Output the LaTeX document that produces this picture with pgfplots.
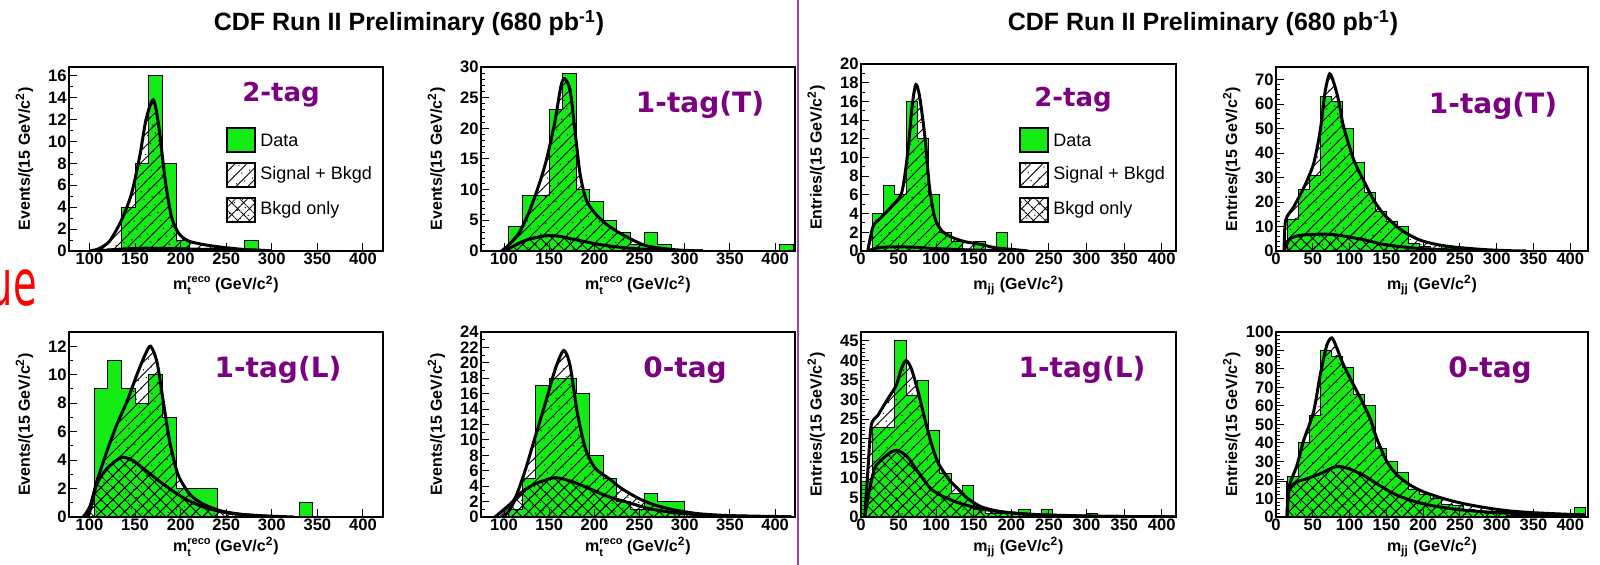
\documentclass[border=0pt]{standalone}
\usepackage{fontspec}
\setmainfont{Liberation Sans}
\newfontfamily\tagfont{DejaVu Sans}
\usepackage{pgfplots}
\pgfplotsset{compat=1.18}
\usepackage{pgfplotstable}
\usetikzlibrary{patterns.meta}
\definecolor{dgreen}{RGB}{20,235,20}
\definecolor{tagpurple}{RGB}{125,0,130}
\definecolor{seppurple}{RGB}{150,70,160}

% ---------------- data (bin left edges, 15 GeV bins) ----------------
\pgfplotstableread{
x y
120 0
135 4
150 8
165 16
180 8
195 1
210 0
225 0
240 0
255 0
270 1
285 0
}\dA
\pgfplotstableread{
x y
100 0
110 0.2
122 0.9
135 2.8
146 5.2
155 8.6
162 12
170 13.8
176 11.4
183 6.5
190 3.1
198 1.6
209 0.9
231 0.5
250 0.3
268 0.15
286 0.08
300 0
}\sA
\pgfplotstableread{
x y
110 0
130 0.15
160 0.25
200 0.2
250 0.1
300 0
}\bA
\pgfplotstableread{
x y
105 4
120 9
135 9
150 23
165 29
180 10
195 8
210 5
225 3
240 1
255 3
270 1
285 0
405 1
420 1
}\dB
\pgfplotstableread{
x y
97 0
103 0.7
116 2.8
127 6.1
138 10.5
147 14.9
156 20.9
163 26.9
167 28.1
173 26.3
178 20.3
184 12.7
191 8.3
201 6.1
212 4.5
226 3.1
241 1.9
256 0.9
271 0.5
289 0.2
308 0.05
320 0
}\sB
\pgfplotstableread{
x y
100 0
112 0.9
123 1.7
142 2.4
156 2.5
171 2.1
190 1.5
208 1.0
226 0.65
252 0.3
289 0.1
320 0
}\bB
\pgfplotstableread{
x y
15 4
30 7
45 6
60 16
75 12
90 6
105 2
120 1
135 0
150 1
165 0
180 2
195 0
}\dC
\pgfplotstableread{
x y
9 0
16 2.6
27 3.6
40 4.7
54 6.2
62 10.4
68 15.5
73 17.8
78 16.5
85 12.2
91 6.9
98 3.6
107 2.2
120 1.5
138 1.0
160 0.7
178 0.35
204 0.15
222 0
}\sC
\pgfplotstableread{
x y
10 0
20 0.3
40 0.45
70 0.4
100 0.25
150 0.1
200 0
}\bC
\pgfplotstableread{
x y
15 13
30 25
45 31
60 63
75 61
90 50
105 36
120 24
135 16
150 12
165 10
180 3
195 2
210 1
225 2
240 1
255 0
270 1
285 0
}\dD
\pgfplotstableread{
x y
11 0
13 12.5
24 18
38 26
51 35.6
60 49
67 65.6
73 72.4
79 68.3
85 61.5
92 50.6
106 37
119 28.8
133 20.7
146 15.2
165 9.8
178 7.1
196 4.4
219 2.6
242 1.6
264 1.0
287 0.5
319 0.1
340 0
}\sD
\pgfplotstableread{
x y
11 0
13 1.6
19 5
33 6.4
51 6.8
74 6.8
92 6.1
119 4.6
146 2.7
174 1.6
196 1.0
242 0.4
287 0.1
320 0
}\bD
\pgfplotstableread{
x y
105 9
120 11
135 9
150 8
165 10
180 7
195 2
210 2
225 2
240 0
330 1
345 0
}\dE
\pgfplotstableread{
x y
93 0
100.5 0.75
108 2.5
119 4.6
130 6.5
141 8.1
152 10
161 11.4
167 12
174 10.9
181 8.1
188 5.3
197 3.0
210 1.6
225 0.9
243 0.45
265 0.2
294 0.07
324 0
}\sE
\pgfplotstableread{
x y
97 0
100.5 0.4
108 2.3
119 3.4
130 4.0
137 4.2
148 3.95
163 3.2
177 2.5
192 1.8
210 1.1
229 0.63
250 0.3
280 0.1
316 0
}\bE
\pgfplotstableread{
x y
105 1
120 5
135 17
150 18
165 18
180 16
195 8
210 5
225 2
240 1
255 3
270 2
285 2
300 0
}\dF
\pgfplotstableread{
x y
90 0
101 1.1
112 2.4
123 5.9
135 10.6
146 14.9
157 19.3
166 21.6
173 19.7
181 13.6
190 8.9
201 6.3
216 5.0
230 3.7
249 2.4
267 1.55
289 0.9
315 0.43
345 0.2
382 0.1
418 0.04
}\sF
\pgfplotstableread{
x y
98 0
105 0.7
116 2.85
131 4.1
146 4.8
158 5.1
175 4.6
194 3.7
216 2.6
234 2.0
260 1.1
286 0.6
319 0.26
356 0.1
400 0
}\bF
\pgfplotstableread{
x y
0 9
15 23
30 23
45 45
60 31
75 35
90 22
105 11
120 6
135 8
150 2
165 1
180 1
195 1
210 2
225 0
240 2
255 0
300 1
315 0
}\dG
\pgfplotstableread{
x y
5 0
9 11.5
13.6 23.4
22.5 26
36 30.3
47 33.7
53.6 37.9
60 40
67 37.9
76 32
85 25
93 19.2
102 14.1
116 9.8
129 7.2
142 4.7
160 2.6
182 1.5
204 1.0
235 0.6
280 0.35
324 0.17
390 0.08
420 0.05
}\sG
\pgfplotstableread{
x y
5 0
9 4.7
18 12.4
29 14.9
40 16.6
49 17.05
62 15.3
76 11.5
93 7.2
111 5.1
133 3.4
160 2.1
186 1.3
222 0.7
266 0.34
324 0.15
420 0.05
}\bG
\pgfplotstableread{
x y
15 22
30 40
45 55
60 90
75 87
90 81
105 66
120 60
135 37
150 30
165 24
180 15
195 12
210 10
225 7
240 6
255 4
270 3
285 2
300 2
315 1
330 1
345 1
360 1
375 0
390 1
405 5
420 5
}\dH
\pgfplotstableread{
x y
15 0
17 15.3
28.5 28
37.6 41.4
51 56.8
60 76.6
69 92.8
76 96.8
83 91
90 83.8
101 74.8
115 64
128 53.2
137 42.3
151 29.7
165 22.5
183 17.1
201 13.5
228 9.9
255 7.2
287 4.9
319 3.2
355 2.2
400 1.4
420 1.2
}\sH
\pgfplotstableread{
x y
15 0
17 12
19 15.3
28 18.9
42 20.7
60 23.4
74 26.1
85 27.4
101 25.8
119 22.5
137 18
160 12.6
183 9
210 6.3
246 4.1
287 2.7
337 1.8
400 1.1
420 0.9
}\bH
\pgfplotstableread{
x y
0 0
0 19
14 19
14 0
}\boxH

\newcommand\labfont{\fontsize{8}{9}\selectfont\bfseries}
\pgfplotsset{
  cdf/.style={
    scale only axis, anchor=south west, axis on top,
    axis line style={line width=0.8pt},
    tick align=inside, xtick pos=left, ytick pos=left,
    major tick length=4pt, minor tick length=2pt,
    tick style={black, line width=0.5pt},
    ymin=0,
    tick label style={font=\fontsize{8.3}{9}\selectfont\bfseries, inner sep=1pt},
    /pgf/number format/assume math mode=true,
    every axis y label/.style={at={(axis description cs:-0.142,0.5)},anchor=center,rotate=90,font=\labfont},
    every axis x label/.style={at={(axis description cs:0.5,-0.185)},anchor=center,font=\labfont},
  },
  lowrow/.style={every axis x label/.style={at={(axis description cs:0.5,-0.162)},anchor=center,font=\labfont}},
  datah/.style={const plot, fill=dgreen, draw=black, line width=0.5pt},
  sbl/.style={smooth, tension=0.45, draw=none, pattern={Lines[angle=45,distance=4.2pt,line width=0.45pt]}},
  sbd/.style={smooth, tension=0.45, draw=none, pattern={Dots[distance=4.2pt,radius=0.35pt,angle=20]}},
  bkh/.style={smooth, tension=0.45, draw=none, pattern={Hatch[angle=45,distance=4.2pt,line width=0.4pt]}},
  crv/.style={smooth, tension=0.45, black, line width=1.5pt},
}
\newcommand\hists[3]{%
  \addplot[datah] table {#1} \closedcycle;
  \addplot[sbl] table {#2} \closedcycle;
  \addplot[sbd] table {#2} \closedcycle;
  \addplot[bkh] table {#3} \closedcycle;
  \addplot[crv] table {#2};
  \addplot[crv] table {#3};
}
\newcommand\smallsc{\fontsize{5.5}{6}\selectfont}
\newcommand\mtlab{m\rlap{\raisebox{-0.55ex}{\smallsc t}}\raisebox{0.85ex}{\smallsc reco} (GeV/c\textsuperscript{2})}
\newcommand\mjjlab{m\textsubscript{jj} (GeV/c\textsuperscript{2})}
\newcommand\evlab{Events/(15 GeV/c\textsuperscript{2})}
\newcommand\enlab{Entries/(15 GeV/c\textsuperscript{2})}

\begin{document}
\begin{tikzpicture}
\path[use as bounding box] (0,0) rectangle (800pt,282.5pt);

% ---------- top row ----------
\begin{axis}[cdf, at={(34.5pt,157pt)}, width=157pt, height=92pt,
  xmin=77.5, xmax=422, ymax=16.8, xtick={100,150,...,400}, ytick={0,2,...,16},
  minor y tick num=1, xlabel={\mtlab}, ylabel={\evlab}]
\hists{\dA}{\sA}{\bA}
\end{axis}
\begin{axis}[cdf, at={(240.5pt,157pt)}, width=157pt, height=92pt,
  xmin=74.5, xmax=422, ymax=30, xtick={100,150,...,400}, ytick={0,5,...,30},
  minor y tick num=4, xlabel={\mtlab}, ylabel={\evlab}]
\hists{\dB}{\sB}{\bB}
\end{axis}
\begin{axis}[cdf, at={(430.5pt,157pt)}, width=157.5pt, height=93.5pt,
  xmin=0, xmax=419, ymax=20, xtick={0,50,...,400}, ytick={0,2,...,20},
  minor y tick num=1, xlabel={\mjjlab}, ylabel={\enlab}]
\hists{\dC}{\sC}{\bC}
\end{axis}
\begin{axis}[cdf, at={(638pt,157pt)}, width=156pt, height=92pt,
  xmin=0, xmax=424, ymax=75.2, xtick={0,50,...,400}, ytick={0,10,...,70},
  minor y tick num=4, xlabel={\mjjlab}, ylabel={\enlab}]
\hists{\dD}{\sD}{\bD}
\end{axis}

% ---------- bottom row ----------
\begin{axis}[cdf, lowrow, at={(34.5pt,24pt)}, width=157pt, height=92.5pt,
  xmin=77.5, xmax=422, ymax=13, xtick={100,150,...,400}, ytick={0,2,...,12},
  minor y tick num=1, xlabel={\mtlab}, ylabel={\evlab}]
\hists{\dE}{\sE}{\bE}
\end{axis}
\begin{axis}[cdf, lowrow, at={(240.5pt,24pt)}, width=157pt, height=92.5pt,
  xmin=74.5, xmax=422, ymax=24, xtick={100,150,...,400}, ytick={0,2,...,24},
  minor y tick num=1, xlabel={\mtlab}, ylabel={\evlab}]
\hists{\dF}{\sF}{\bF}
\end{axis}
\begin{axis}[cdf, lowrow, at={(430.5pt,24pt)}, width=157.5pt, height=92.5pt,
  xmin=0, xmax=419, ymax=47.3, xtick={0,50,...,400}, ytick={0,5,...,45},
  minor y tick num=4, xlabel={\mjjlab}, ylabel={\enlab}]
\hists{\dG}{\sG}{\bG}
\end{axis}
\begin{axis}[cdf, lowrow, at={(638pt,24pt)}, width=156pt, height=92.5pt,
  xmin=0, xmax=424, ymax=100, xtick={0,50,...,400}, ytick={0,10,...,100},
  minor y tick num=4, xlabel={\mjjlab}, ylabel={\enlab}]
\addplot[fill=white, draw=black, line width=0.6pt] table {\boxH};
\hists{\dH}{\sH}{\bH}
\end{axis}

% ---------- titles, separator, labels ----------
\node[font=\fontsize{12.5}{14}\selectfont\bfseries] at (204.5pt,271pt) {CDF Run II Preliminary (680 pb\textsuperscript{-1})};
\node[font=\fontsize{12.5}{14}\selectfont\bfseries] at (601.5pt,271pt) {CDF Run II Preliminary (680 pb\textsuperscript{-1})};
\draw[seppurple, line width=1pt] (399pt,0) -- (399pt,282.5pt);
\node[anchor=base east, text=red, font=\tagfont\fontsize{32}{34}\selectfont, xscale=0.6, inner sep=0pt] at (18.5pt,129.5pt) {ue};

\begin{scope}[every node/.style={text=tagpurple, font=\tagfont\bfseries\fontsize{14}{16}\selectfont}]
\node[font=\tagfont\bfseries\fontsize{13}{16}\selectfont] at (140.5pt,235pt) {2-tag};
\node at (350pt,230pt) {1-tag(T)};
\node[font=\tagfont\bfseries\fontsize{13}{16}\selectfont] at (536.5pt,232.5pt) {2-tag};
\node at (746.5pt,229.5pt) {1-tag(T)};
\node at (139pt,97.5pt) {1-tag(L)};
\node at (342.5pt,97.5pt) {0-tag};
\node at (541pt,97.5pt) {1-tag(L)};
\node at (745pt,97.5pt) {0-tag};
\end{scope}

% ---------- legends ----------
\foreach \lx in {113.5pt,510pt}{
  \begin{scope}[shift={(\lx,0)}]
  \fill[dgreen] (0,206.5pt) rectangle (14pt,218.5pt);
  \draw[line width=1.2pt] (0,206.5pt) rectangle (14pt,218.5pt);
  \fill[pattern={Lines[angle=45,distance=4.2pt,line width=0.45pt]}] (0,189pt) rectangle (14pt,201pt);
  \fill[pattern={Dots[distance=4.2pt,radius=0.35pt,angle=20]}] (0,189pt) rectangle (14pt,201pt);
  \draw[line width=1.2pt] (0,189pt) rectangle (14pt,201pt);
  \fill[pattern={Hatch[angle=45,distance=4.2pt,line width=0.4pt]}] (0,171.5pt) rectangle (14pt,183.5pt);
  \fill[pattern={Dots[distance=4.2pt,radius=0.35pt,angle=20]}] (0,171.5pt) rectangle (14pt,183.5pt);
  \draw[line width=1.2pt] (0,171.5pt) rectangle (14pt,183.5pt);
  \begin{scope}[every node/.style={anchor=west, inner sep=0pt, font=\fontsize{9}{10}\selectfont}]
  \node at (16.5pt,212.5pt) {Data};
  \node at (16.5pt,195pt) {Signal + Bkgd};
  \node at (16.5pt,177.5pt) {Bkgd only};
  \end{scope}
  \end{scope}
}
\end{tikzpicture}
\end{document}
